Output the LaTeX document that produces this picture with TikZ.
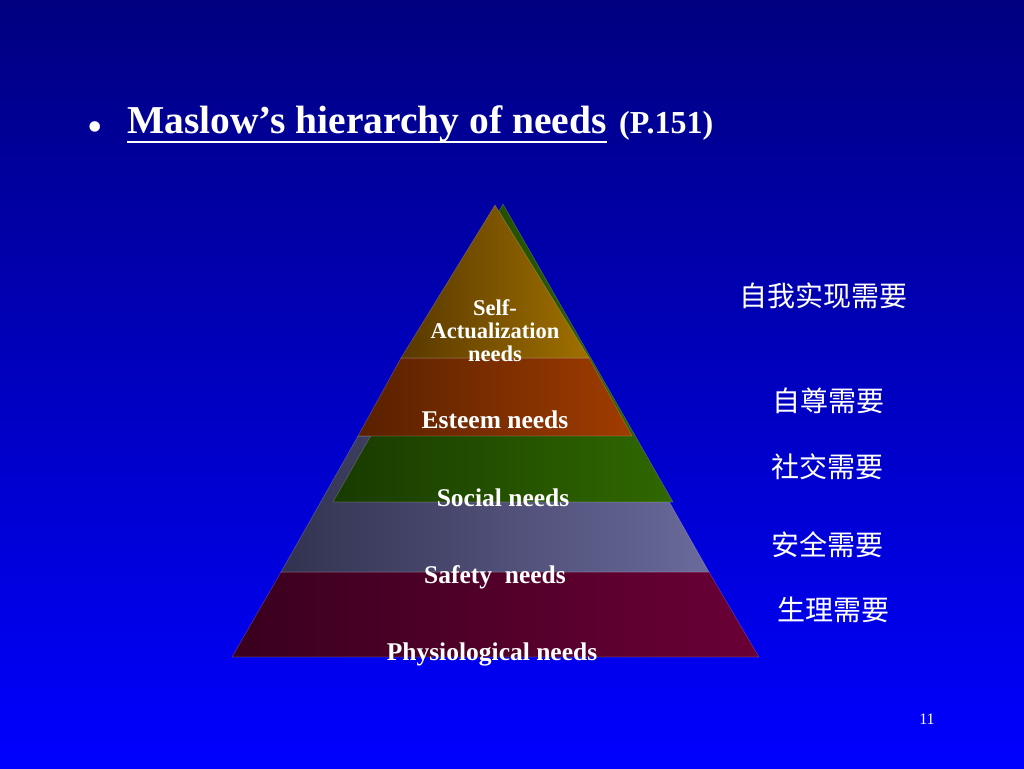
\documentclass[tikz,border=0pt]{standalone}
\usepackage{fontspec}
\setmainfont{Liberation Serif}
\newfontfamily\cjk{Noto Sans CJK SC}
\usepackage{xcolor}
\usetikzlibrary{positioning}

\definecolor{slidetop}{RGB}{0,0,128}
\definecolor{slidebottom}{RGB}{0,0,255}
\definecolor{goldL}{RGB}{88,56,0}
\definecolor{goldR}{RGB}{160,112,0}
\definecolor{esteemL}{RGB}{88,32,0}
\definecolor{esteemR}{RGB}{160,60,0}
\definecolor{socialL}{RGB}{24,58,0}
\definecolor{socialR}{RGB}{48,104,0}
\definecolor{safetyL}{RGB}{50,50,80}
\definecolor{safetyR}{RGB}{106,106,156}
\definecolor{physioL}{RGB}{58,0,30}
\definecolor{physioR}{RGB}{106,0,54}

\tikzset{
    layer/.style={draw=white, draw opacity=0.2, line width=0.6pt},
    needs/.style={text=white, font=\bfseries\fontsize{25.5}{23}\selectfont, inner sep=0pt, align=center},
    cnneeds/.style={text=white, font=\cjk\fontsize{28}{30}\selectfont, inner sep=0pt}
}

\begin{document}
\begin{tikzpicture}[x=1pt, y=1pt]
    \useasboundingbox (0,0) rectangle (1024,768);
    \shade[top color=slidetop, bottom color=slidebottom] (0,0) rectangle (1024,768);

    % pyramid, bottom to top
    \shade[layer, left color=physioL, right color=physioR]
        (232,111) -- (759,111) -- (709,196) -- (281,196) -- cycle;
    \shade[layer, left color=safetyL, right color=safetyR]
        (281,196) -- (709,196) -- (632,332) -- (358,332) -- cycle;
    \shade[layer, left color=socialL, right color=socialR]
        (333,266) -- (673,266) -- (503,564) -- cycle;
    \shade[layer, left color=esteemL, right color=esteemR]
        (358,332) -- (632,332) -- (589,410) -- (401,410) -- cycle;
    \shade[layer, left color=goldL, right color=goldR]
        (401,410) -- (589,410) -- (495,563) -- cycle;

    \node[needs, font=\bfseries\fontsize{22.5}{23}\selectfont] (self) at (495,437) {Self-\\Actualization\\needs};
    \node[needs] (esteem) at (495,348) {Esteem needs};
    \node[needs] (social) at (503,270) {Social needs};
    \node[needs] (safety) at (495,191) {Safety~~needs};
    \node[needs] (physio) at (492,114) {Physiological needs};

    \node[cnneeds] (cnself) at (823,472) {自我实现需要};
    \node[cnneeds] (cnesteem) at (828,367) {自尊需要};
    \node[cnneeds] (cnsocial) at (827,301) {社交需要};
    \node[cnneeds] (cnsafety) at (827,223) {安全需要};
    \node[cnneeds] (cnphysio) at (833,158) {生理需要};

    % title
    \node[text=white, font=\fontsize{44}{44}\selectfont, inner sep=0pt] (bullet) at (95,636) {•};
    \node[text=white, font=\bfseries\fontsize{39.5}{44}\selectfont, inner sep=0pt, anchor=base west]
        (title) at (127,634) {Maslow’s hierarchy of needs};
    \node[text=white, font=\bfseries\fontsize{32}{36}\selectfont, inner sep=0pt, anchor=base west]
        (page) at (619,634) {(P.151)};
    \draw[white, line width=1.6pt] ([yshift=-8pt]title.base west) -- ([yshift=-8pt]title.base east);

    \node[text=white, font=\fontsize{16}{18}\selectfont] (slideno) at (927,49) {11};
\end{tikzpicture}
\end{document}
